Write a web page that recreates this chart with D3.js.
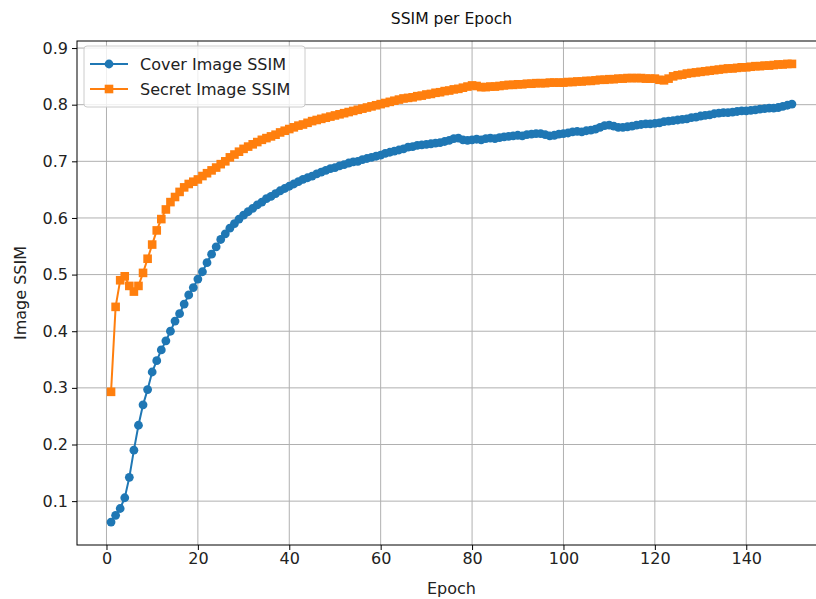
<!DOCTYPE html>
<html>
<head>
<meta charset="utf-8">
<script src="https://cdn.jsdelivr.net/npm/d3@7"></script>
<style>
  html, body { margin: 0; padding: 0; background: #fff; }
  svg { display: block; font-family: "DejaVu Sans", sans-serif; }
</style>
</head>
<body>
<svg id="chart" width="816" height="599"></svg>
<script>
const title = "SSIM per Epoch";
const xLabel = "Epoch";
const yLabel = "Image SSIM";
const seriesNames = ["Cover Image SSIM", "Secret Image SSIM"];
const xTicks = [0, 20, 40, 60, 80, 100, 120, 140];
const yTicks = [0.1, 0.2, 0.3, 0.4, 0.5, 0.6, 0.7, 0.8, 0.9];

const coverSSIM = [
  0.063,0.075,0.087,0.106,0.142,0.190,0.234,0.270,0.297,0.328,
  0.348,0.367,0.383,0.400,0.418,0.431,0.448,0.464,0.477,0.492,
  0.505,0.521,0.536,0.549,0.562,0.572,0.582,0.590,0.598,0.605,
  0.611,0.617,0.623,0.628,0.634,0.638,0.643,0.648,0.652,0.656,
  0.660,0.664,0.668,0.671,0.674,0.678,0.681,0.684,0.687,0.689,
  0.692,0.694,0.697,0.699,0.700,0.703,0.705,0.707,0.709,0.711,
  0.714,0.716,0.718,0.720,0.722,0.725,0.726,0.728,0.729,0.730,
  0.731,0.732,0.733,0.735,0.737,0.740,0.741,0.738,0.737,0.738,
  0.739,0.738,0.740,0.741,0.740,0.742,0.743,0.744,0.745,0.746,
  0.745,0.747,0.748,0.749,0.749,0.747,0.745,0.746,0.748,0.749,
  0.750,0.752,0.753,0.752,0.754,0.755,0.757,0.760,0.763,0.764,
  0.762,0.760,0.760,0.761,0.762,0.764,0.765,0.766,0.766,0.767,
  0.768,0.770,0.771,0.772,0.773,0.774,0.775,0.777,0.778,0.780,
  0.781,0.782,0.784,0.785,0.786,0.786,0.787,0.788,0.789,0.789,
  0.790,0.791,0.792,0.793,0.794,0.794,0.795,0.797,0.799,0.801
];

const secretSSIM = [
  0.293,0.443,0.490,0.497,0.480,0.470,0.480,0.503,0.528,0.553,
  0.578,0.598,0.615,0.628,0.637,0.646,0.654,0.660,0.664,0.668,
  0.674,0.679,0.684,0.689,0.695,0.700,0.707,0.712,0.717,0.722,
  0.726,0.730,0.734,0.738,0.741,0.744,0.747,0.751,0.754,0.757,
  0.760,0.763,0.765,0.768,0.771,0.773,0.775,0.777,0.779,0.781,
  0.783,0.785,0.787,0.789,0.791,0.793,0.795,0.797,0.799,0.801,
  0.803,0.805,0.807,0.809,0.811,0.812,0.813,0.815,0.816,0.818,
  0.819,0.821,0.822,0.824,0.825,0.827,0.828,0.830,0.832,0.834,
  0.833,0.831,0.831,0.832,0.832,0.833,0.834,0.835,0.835,0.836,
  0.836,0.837,0.837,0.838,0.838,0.838,0.839,0.839,0.839,0.839,
  0.840,0.840,0.841,0.841,0.842,0.842,0.843,0.844,0.844,0.845,
  0.845,0.846,0.846,0.847,0.847,0.847,0.847,0.846,0.846,0.846,
  0.844,0.843,0.846,0.850,0.852,0.853,0.855,0.856,0.857,0.858,
  0.859,0.860,0.861,0.862,0.863,0.864,0.864,0.865,0.866,0.866,
  0.867,0.868,0.868,0.869,0.869,0.870,0.871,0.871,0.872,0.872
];

const epochs = coverSSIM.map((_, i) => i + 1);
const colors = ["#1f77b4", "#ff7f0e"];

const svg = d3.select("#chart");
const plot = { left: 77, right: 826, top: 41, bottom: 545 };
const fs = "16px";

// matplotlib-style 5% margins
const xExt = d3.extent(epochs);
const xPad = (xExt[1] - xExt[0]) * 0.05;
const allY = coverSSIM.concat(secretSSIM);
const yExt = d3.extent(allY);
const yPad = (yExt[1] - yExt[0]) * 0.05;

const x = d3.scaleLinear().domain([xExt[0] - xPad, xExt[1] + xPad]).range([plot.left, plot.right]);
const y = d3.scaleLinear().domain([yExt[0] - yPad, yExt[1] + yPad]).range([plot.bottom, plot.top]);

// grid
const grid = svg.append("g");
grid.selectAll("line.gx").data(xTicks).join("line")
  .attr("x1", d => x(d)).attr("x2", d => x(d))
  .attr("y1", plot.top).attr("y2", plot.bottom)
  .attr("stroke", "#b0b0b0").attr("stroke-width", 1);
grid.selectAll("line.gy").data(yTicks).join("line")
  .attr("x1", plot.left).attr("x2", plot.right)
  .attr("y1", d => y(d)).attr("y2", d => y(d))
  .attr("stroke", "#b0b0b0").attr("stroke-width", 1);

// axes
const xAxis = d3.axisBottom(x).tickValues(xTicks).tickSize(5).tickPadding(3).tickFormat(d3.format("d"));
const yAxis = d3.axisLeft(y).tickValues(yTicks).tickSize(5).tickPadding(4).tickFormat(d3.format(".1f"));

const gx = svg.append("g").attr("transform", `translate(0,${plot.bottom})`).call(xAxis);
const gy = svg.append("g").attr("transform", `translate(${plot.left},0)`).call(yAxis);
[gx, gy].forEach(g => {
  g.select(".domain").remove();
  g.selectAll(".tick line").attr("stroke", "#000").attr("stroke-width", 1);
  g.selectAll(".tick text").attr("fill", "#222").style("font-size", fs).style("font-family", "DejaVu Sans, sans-serif");
});

// series
const line = d3.line().x((d, i) => x(epochs[i])).y(d => y(d));
const marks = svg.append("g");
series = [coverSSIM, secretSSIM];
series.forEach((s, k) => {
  marks.append("path").datum(s).attr("d", line)
    .attr("fill", "none").attr("stroke", colors[k]).attr("stroke-width", 2);
  if (k === 0) {
    marks.selectAll(null).data(s).join("circle")
      .attr("cx", (d, i) => x(epochs[i])).attr("cy", d => y(d)).attr("r", 4.4)
      .attr("fill", colors[k]);
  } else {
    marks.selectAll(null).data(s).join("rect")
      .attr("x", (d, i) => x(epochs[i]) - 4.3).attr("y", d => y(d) - 4.3)
      .attr("width", 8.6).attr("height", 8.6)
      .attr("fill", colors[k]);
  }
});

// spines
svg.append("rect").attr("x", plot.left).attr("y", plot.top)
  .attr("width", plot.right - plot.left).attr("height", plot.bottom - plot.top)
  .attr("fill", "none").attr("stroke", "#000").attr("stroke-width", 1);

// title & labels
svg.append("text").attr("x", (plot.left + plot.right) / 2).attr("y", 24)
  .attr("text-anchor", "middle").attr("fill", "#111").style("font-size", "15.6px").text(title);
svg.append("text").attr("x", (plot.left + plot.right) / 2).attr("y", 594)
  .attr("text-anchor", "middle").attr("fill", "#222").style("font-size", fs).text(xLabel);
svg.append("text").attr("transform", `translate(26,${(plot.top + plot.bottom) / 2}) rotate(-90)`)
  .attr("text-anchor", "middle").attr("fill", "#222").style("font-size", fs).text(yLabel);

// legend
const lg = svg.append("g").attr("transform", "translate(84,46)");
lg.append("rect").attr("width", 221).attr("height", 61).attr("rx", 3)
  .attr("fill", "#fff").attr("fill-opacity", 0.8).attr("stroke", "#cccccc");
seriesNames.forEach((n, k) => {
  const cy = 18 + k * 25;
  lg.append("line").attr("x1", 6).attr("x2", 44).attr("y1", cy).attr("y2", cy)
    .attr("stroke", colors[k]).attr("stroke-width", 2);
  if (k === 0) lg.append("circle").attr("cx", 25).attr("cy", cy).attr("r", 4.4).attr("fill", colors[k]);
  else lg.append("rect").attr("x", 20.7).attr("y", cy - 4.3).attr("width", 8.6).attr("height", 8.6).attr("fill", colors[k]);
  lg.append("text").attr("x", 56).attr("y", cy + 6).attr("fill", "#222").style("font-size", fs).text(n);
});
</script>
</body>
</html>
